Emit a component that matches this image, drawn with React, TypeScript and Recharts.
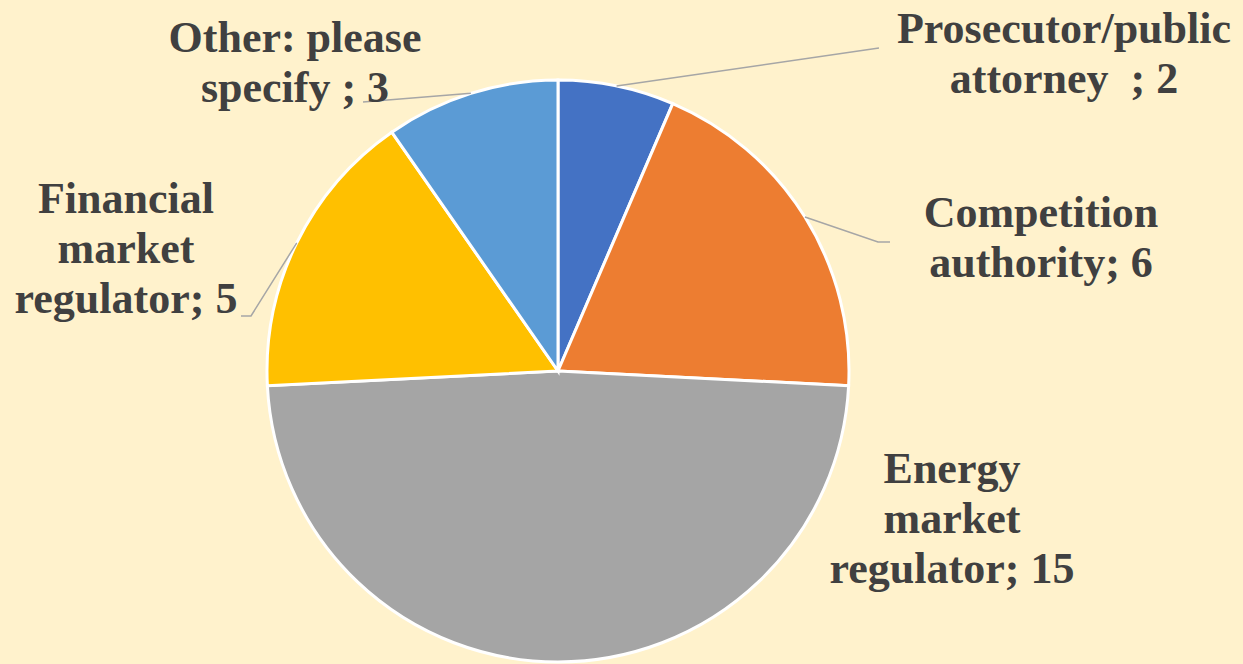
import React from "react";
import { Cell, Pie, PieChart } from "recharts";

const categories = [
  "Prosecutor/public attorney",
  "Competition authority",
  "Energy market regulator",
  "Financial market regulator",
  "Other: please specify",
];
const values = [2, 6, 15, 5, 3];
const colors = ["#4472C4", "#ED7D31", "#A5A5A5", "#FFC000", "#5B9BD5"];

// how each label is broken into lines (last line gets "; value")
const labelLines = [
  ["Prosecutor/public", "attorney  "],
  ["Competition", "authority"],
  ["Energy", "market", "regulator"],
  ["Financial", "market", "regulator"],
  ["Other: please", "specify "],
];

// label placement: text centre + first baseline, leader elbow/end
const labelLayout = [
  { x: 1064, y: 43, elbow: null, end: [879, 48] },
  { x: 1041, y: 227, elbow: [878, 242], end: [890, 242] },
  { x: 952, y: 483, elbow: null, end: null },
  { x: 126, y: 213, elbow: [251, 316], end: [241, 316] },
  { x: 295, y: 52, elbow: null, end: [363, 102] },
];

const data = categories.map((name, i) => ({ name, value: values[i] }));

const RAD = Math.PI / 180;
const LINE_H = 50;

const renderLabel = (props: any) => {
  const { cx, cy, midAngle, outerRadius, index } = props;
  const layout = labelLayout[index];
  const lines = [...labelLines[index]];
  lines[lines.length - 1] = `${lines[lines.length - 1]}; ${values[index]}`;
  const sx = cx + Math.cos(-midAngle * RAD) * outerRadius;
  const sy = cy + Math.sin(-midAngle * RAD) * outerRadius;
  let path = "";
  if (layout.end) {
    path = `M${sx},${sy}`;
    if (layout.elbow) path += `L${layout.elbow[0]},${layout.elbow[1]}`;
    path += `L${layout.end[0]},${layout.end[1]}`;
  }
  return (
    <g key={`lbl-${index}`}>
      {path && <path d={path} stroke="#A6A6A6" strokeWidth={1.5} fill="none" />}
      <text
        x={layout.x}
        y={layout.y}
        textAnchor="middle"
        fill="#404040"
        style={{
          fontFamily: "'Liberation Serif', serif",
          fontWeight: 700,
          fontSize: 44,
          whiteSpace: "pre",
        }}
      >
        {lines.map((ln, j) => (
          <tspan key={j} x={layout.x} y={layout.y + j * LINE_H}>
            {ln}
          </tspan>
        ))}
      </text>
    </g>
  );
};

export default function App() {
  return (
    <div
      style={{
        position: "absolute",
        left: 0,
        top: 0,
        width: 1243,
        height: 664,
        background: "#FFF2CC",
      }}
    >
      <PieChart width={1243} height={664} margin={{ top: 0, right: 0, bottom: 0, left: 0 }}>
        <Pie
          data={data}
          dataKey="value"
          nameKey="name"
          cx={558}
          cy={371}
          outerRadius={291}
          innerRadius={0}
          startAngle={90}
          endAngle={-270}
          stroke="#FFFFFF"
          strokeWidth={3}
          label={renderLabel}
          labelLine={false}
          isAnimationActive={false}
        >
          {data.map((d, i) => (
            <Cell key={d.name} fill={colors[i]} />
          ))}
        </Pie>
      </PieChart>
    </div>
  );
}
